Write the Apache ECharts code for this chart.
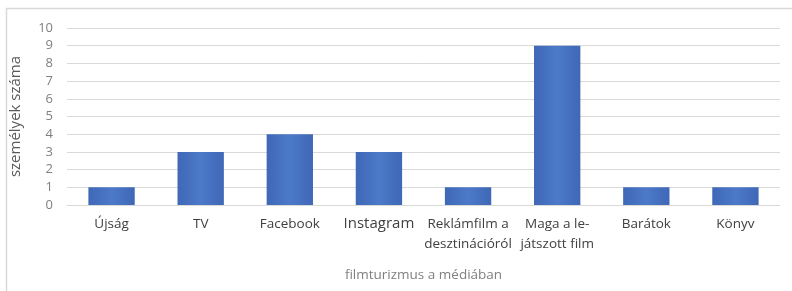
<!DOCTYPE html>
<html><head><meta charset="utf-8">
<script src="https://cdn.jsdelivr.net/npm/echarts@6/dist/echarts.min.js"></script>
<style>html,body{margin:0;padding:0;background:#fff}#c{width:792px;height:291px}</style>
</head><body><div id="c"></div>
<script>
var categories = ['Újság', 'TV', 'Facebook', 'Instagram', 'Reklámfilm a\ndesztinációról', 'Maga a le-\njátszott film', 'Barátok', 'Könyv'];
var values = [1, 3, 4, 3, 1, 9, 1, 1];
var yTicks = [0, 1, 2, 3, 4, 5, 6, 7, 8, 9, 10];

var chart = echarts.init(document.getElementById('c'), null, {renderer: 'canvas'});
var font = '"Open Sans", "Noto Sans", sans-serif';
chart.setOption({
  animation: false,
  backgroundColor: '#fff',
  graphic: [
    {type: 'line', shape: {x1: 6, y1: 8.5, x2: 792, y2: 8.5}, style: {stroke: '#d9d9d9', lineWidth: 1.5}},
    {type: 'line', shape: {x1: 6.5, y1: 8, x2: 6.5, y2: 291}, style: {stroke: '#d9d9d9', lineWidth: 1.5}}
  ],
  grid: {left: 67, right: 12, top: 28, bottom: 86, containLabel: false},
  xAxis: {
    type: 'category',
    data: categories.map(function (c) {
      return c === 'Instagram' ? {value: c, textStyle: {fontSize: 15}} : c;
    }),
    name: 'filmturizmus a médiában',
    nameLocation: 'middle',
    nameGap: 63,
    nameTextStyle: {color: '#808080', fontSize: 13.5, fontFamily: font},
    axisLine: {show: true, lineStyle: {color: '#d9d9d9', width: 1}},
    axisTick: {show: false},
    axisLabel: {color: '#404040', fontSize: 13.5, fontFamily: font, margin: 9, interval: 0, lineHeight: 20}
  },
  yAxis: {
    type: 'value',
    min: 0, max: 10, interval: 1,
    name: 'személyek száma',
    nameLocation: 'middle',
    nameGap: 44,
    nameRotate: 90,
    nameTextStyle: {color: '#595959', fontSize: 15, fontFamily: font},
    axisLine: {show: false},
    axisTick: {show: false},
    axisLabel: {color: '#7f7f7f', fontSize: 13, fontFamily: font, margin: 14,
      formatter: function (v) { return yTicks.indexOf(v) >= 0 ? String(v) : ''; }},
    splitLine: {lineStyle: {color: '#d9d9d9', width: 1}}
  },
  series: [{
    type: 'bar',
    data: values,
    barWidth: '52%',
    itemStyle: {
      color: new echarts.graphic.LinearGradient(0, 0, 1, 0, [
        {offset: 0, color: '#3f68b6'},
        {offset: 0.5, color: '#4c79c9'},
        {offset: 1, color: '#3f68b6'}
      ])
    }
  }]
});
</script></body></html>
